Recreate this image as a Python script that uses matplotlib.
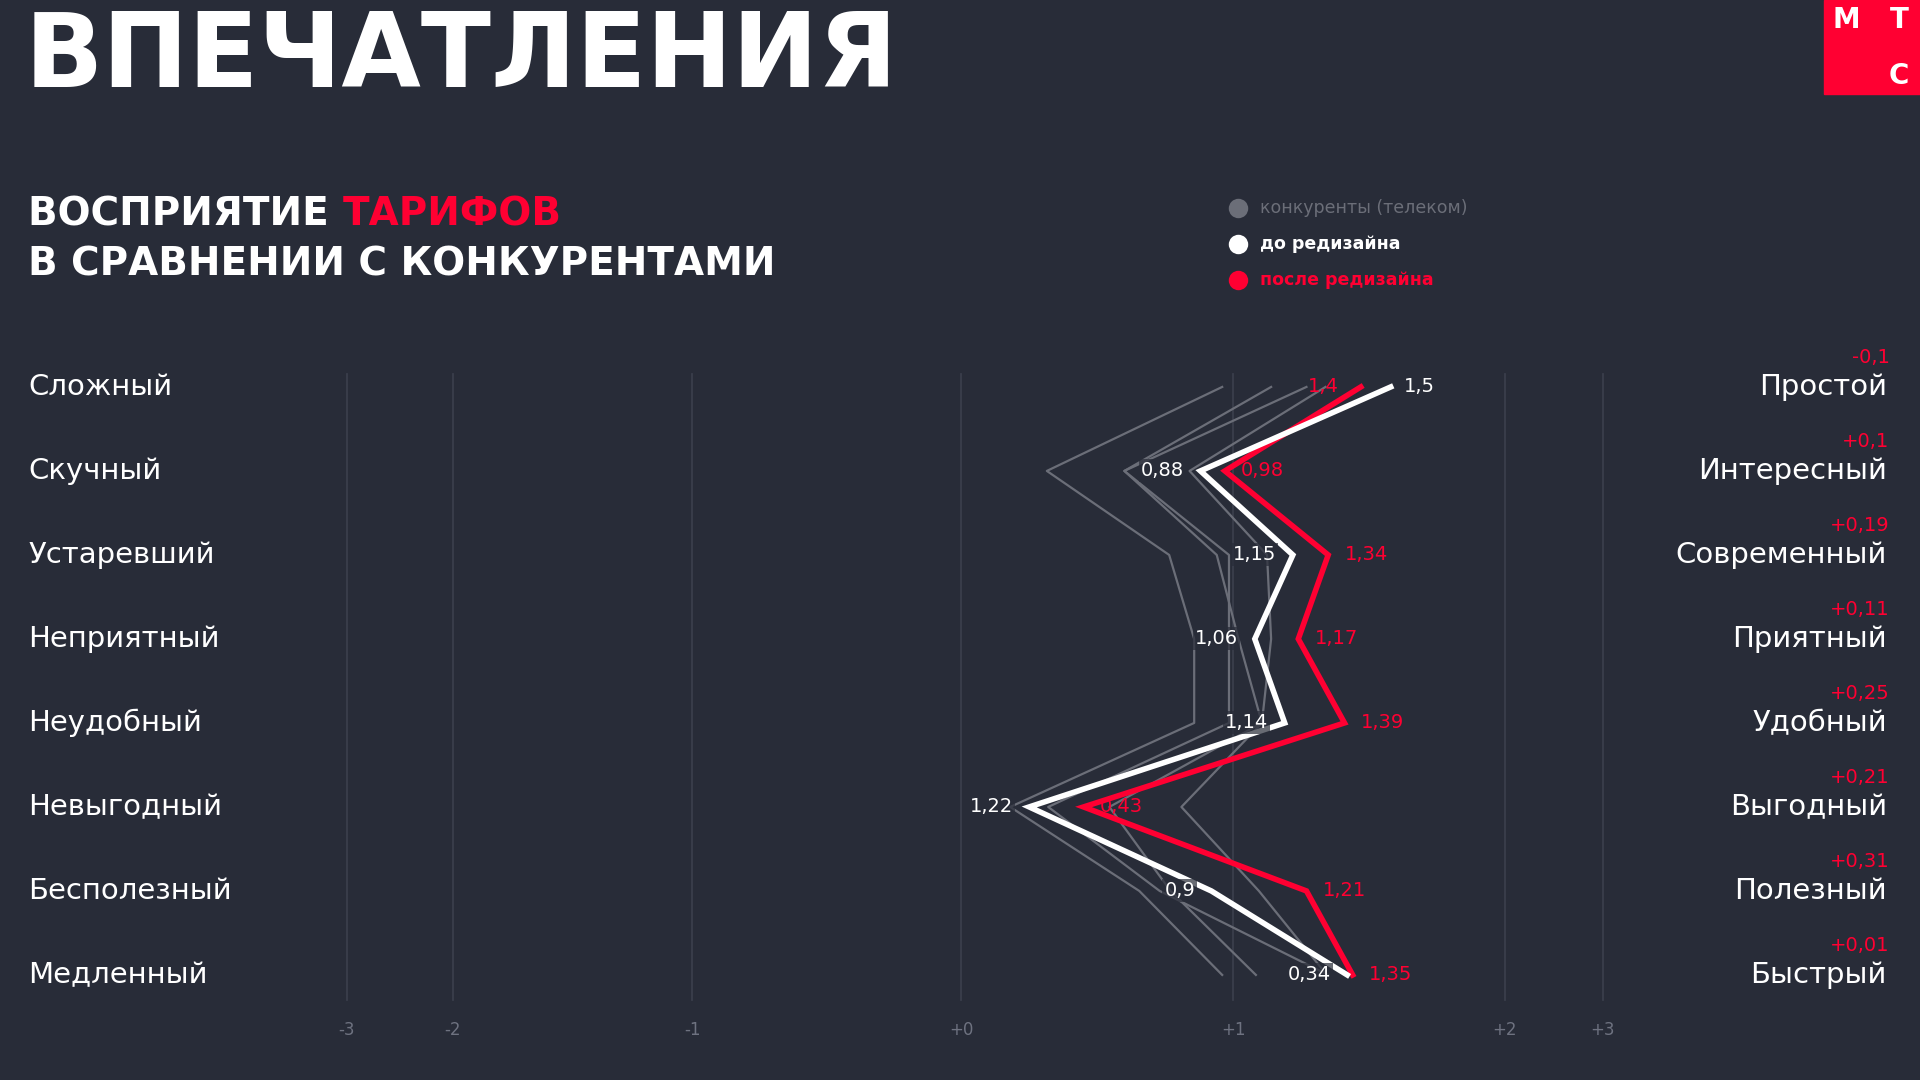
import matplotlib
matplotlib.use("Agg")
import matplotlib.pyplot as plt
from matplotlib.patches import Rectangle

BG = "#282c38"
RED = "#ff0032"
GREY = "#6b6e78"
GRID = "#3a3e4b"

left_labels = ["Сложный", "Скучный", "Устаревший", "Неприятный", "Неудобный", "Невыгодный", "Бесполезный", "Медленный"]
right_labels = ["Простой", "Интересный", "Современный", "Приятный", "Удобный", "Выгодный", "Полезный", "Быстрый"]
deltas = ["-0,1", "+0,1", "+0,19", "+0,11", "+0,25", "+0,21", "+0,31", "+0,01"]

competitor_1 = [0.96, 0.315, 0.765, 0.857, 0.857, 0.18, 0.655, 0.96]
competitor_2 = [1.14, 0.60, 0.94, 1.02, 1.106, 0.545, 0.77, 1.084]
competitor_3 = [1.27, 0.60, 0.985, 0.985, 0.985, 0.32, 0.73, 1.35]
competitor_4 = [1.34, 0.84, 1.125, 1.14, 1.106, 0.81, 1.095, 1.345]

before = [1.58, 0.88, 1.22, 1.08, 1.19, 0.25, 0.92, 1.42]
before_labels = ["1,5", "0,88", "1,15", "1,06", "1,14", "1,22", "0,9", "0,34"]
after = [1.47, 0.97, 1.35, 1.24, 1.41, 0.45, 1.27, 1.44]
after_labels = ["1,4", "0,98", "1,34", "1,17", "1,39", "0,43", "1,21", "1,35"]

tick_pos = [-2.26, -1.87, -0.99, 0.0, 1.0, 2.0, 2.36]
tick_labels = ["-3", "-2", "-1", "+0", "+1", "+2", "+3"]

W, H = 1568.0, 882.0
fig = plt.figure(figsize=(19.2, 10.8), dpi=100, facecolor=BG)
ax = fig.add_axes([0, 0, 1, 1])
ax.set_facecolor(BG)
ax.set_xlim(-785 / 222, (W - 785) / 222)
row0, rstep = 316.0, 68.6
ax.set_ylim((H - row0) / rstep, -row0 / rstep)
ax.axis("off")

rows = list(range(len(left_labels)))
FONT = "DejaVu Sans"

for t, lab in zip(tick_pos, tick_labels):
    ax.plot([t, t], [-0.15, 7.3], color=GRID, lw=1.3, zorder=1)
    ax.text(t, 7.66, lab, color="#6e7280", fontsize=12, ha="center", va="center", family=FONT)

for c in (competitor_1, competitor_2, competitor_3, competitor_4):
    ax.plot(c, rows, color=GREY, lw=1.6, zorder=2)

ax.plot(before, rows, color="white", lw=4, zorder=4, solid_joinstyle="miter")
ax.plot(after, rows, color=RED, lw=4, zorder=3, solid_joinstyle="miter")

for i, (v, s) in enumerate(zip(before, before_labels)):
    if i == 0:
        ax.text(v + 0.05, i, s, color="white", fontsize=14, ha="left", va="center", zorder=6)
    else:
        ax.text(v - 0.06, i, s, color="white", fontsize=14, ha="right", va="center", zorder=6,
                bbox=dict(boxstyle="square,pad=0.1", fc=BG, ec="none", alpha=0.7))
for i, (v, s) in enumerate(zip(after, after_labels)):
    if i == 0:
        ax.text(v - 0.08, i, s, color=RED, fontsize=14, ha="right", va="center", zorder=6)
    else:
        ax.text(v + 0.06, i, s, color=RED, fontsize=14, ha="left", va="center", zorder=6)

for i in rows:
    fig.text(23 / W, 1 - (row0 + rstep * i) / H, left_labels[i], color="white", fontsize=21,
             ha="left", va="center", family=FONT)
    fig.text(1541 / W, 1 - (row0 + rstep * i) / H, right_labels[i], color="white", fontsize=21,
             ha="right", va="center", family=FONT)
    fig.text(1543 / W, 1 - (row0 + rstep * i - 24) / H, deltas[i], color=RED, fontsize=14,
             ha="right", va="center", family=FONT)

fig.text(20 / W, 1 - 48 / H, "ВПЕЧАТЛЕНИЯ", color="white", fontsize=74, fontweight="bold",
         ha="left", va="center", family=FONT)
t1 = fig.text(23 / W, 1 - 175 / H, "ВОСПРИЯТИЕ ", color="white", fontsize=28, fontweight="bold",
              ha="left", va="center", family=FONT)
fig.canvas.draw()
bb = t1.get_window_extent()
fig.text(bb.x1 / fig.bbox.width, 1 - 175 / H, "ТАРИФОВ", color=RED, fontsize=28, fontweight="bold",
         ha="left", va="center", family=FONT)
fig.text(23 / W, 1 - 216 / H, "В СРАВНЕНИИ С КОНКУРЕНТАМИ", color="white", fontsize=28,
         fontweight="bold", ha="left", va="center", family=FONT)

leg = [("конкуренты (телеком)", GREY), ("до редизайна", "white"), ("после редизайна", RED)]
for k, (txt, col) in enumerate(leg):
    y = 1 - (170 + 29.5 * k) / H
    ax.plot([1011 / W], [y], marker="o", ms=14, color=col, mec="none", transform=fig.transFigure)
    fig.text(1029 / W, y, txt, color=col, fontsize=12.5, ha="left", va="center", family=FONT,
             fontweight="bold" if k else "normal")

fig.patches.append(Rectangle((1490 / W, 1 - 77 / H), 78 / W, 77 / H, transform=fig.transFigure,
                             color=RED, figure=fig))
fig.text(1508 / W, 1 - 16 / H, "М", color="white", fontsize=20, fontweight="bold", ha="center", va="center")
fig.text(1551 / W, 1 - 16 / H, "Т", color="white", fontsize=20, fontweight="bold", ha="center", va="center")
fig.text(1551 / W, 1 - 62 / H, "С", color="white", fontsize=20, fontweight="bold", ha="center", va="center")

fig.savefig("out.png", dpi=100, facecolor=BG)
